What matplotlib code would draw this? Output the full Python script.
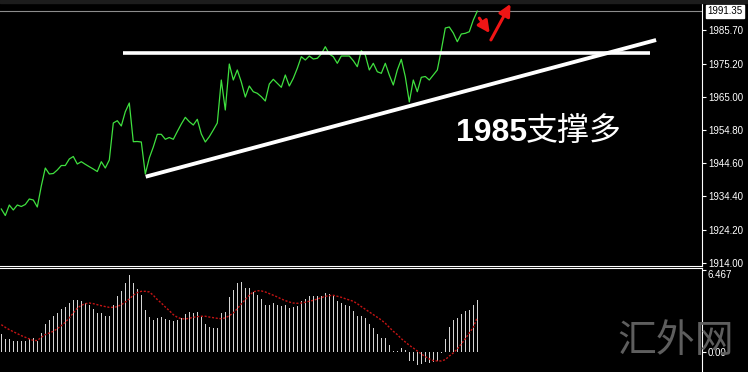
import matplotlib.pyplot as plt
import numpy as np
from matplotlib.patches import Rectangle

# price (line chart, one close per bar)
close = [
    1930.51, 1928.51, 1931.74, 1930.21, 1931.74, 1931.28, 1931.90, 1933.59, 1933.28, 1931.13,
    1937.59, 1943.12, 1941.28, 1941.43, 1942.51, 1943.89, 1943.89, 1945.89, 1946.66, 1944.35,
    1945.06, 1944.26, 1943.52, 1942.81, 1942.04, 1945.06, 1943.12, 1945.58, 1956.96, 1957.67,
    1956.04, 1960.43, 1963.11, 1951.21, 1951.27, 1951.12, 1941.28, 1946.20, 1949.58, 1953.48,
    1953.48, 1951.95, 1952.50, 1951.95, 1954.34, 1956.65, 1958.71, 1957.36, 1956.34, 1958.10,
    1953.58, 1951.12, 1952.75, 1954.81, 1956.96, 1970.18, 1960.96, 1975.10, 1970.18, 1973.26,
    1969.57, 1964.95, 1968.34, 1966.58, 1966.09, 1965.05, 1963.72, 1968.95, 1970.40, 1969.17,
    1967.94, 1971.72, 1968.34, 1970.70, 1973.78, 1977.35, 1976.33, 1977.56, 1976.64, 1976.85,
    1978.18, 1980.42, 1978.18, 1977.35, 1975.32, 1977.56, 1977.56, 1977.56, 1976.12, 1974.27,
    1979.19, 1977.87, 1973.26, 1975.32, 1972.73, 1972.24, 1975.32, 1971.72, 1968.64, 1973.26,
    1976.55, 1971.20, 1963.42, 1970.18, 1966.58, 1971.01, 1971.26, 1970.18, 1971.72, 1973.26,
    1979.41, 1986.17, 1986.48, 1984.63, 1981.96, 1984.33, 1984.54, 1985.03, 1988.63, 1991.35,
]

# MACD histogram and signal
macd = [
    1.44, 1.05, 1.05, 0.92, 0.92, 0.92, 0.92, 1.05, 1.13, 0.92,
    1.52, 2.23, 2.57, 2.83, 3.09, 3.43, 3.53, 3.87, 4.08, 4.08,
    4.01, 3.87, 3.74, 3.40, 3.09, 3.09, 2.88, 2.88, 3.74, 4.45,
    4.79, 5.45, 6.10, 5.45, 4.97, 4.53, 3.30, 2.75, 2.57, 2.70,
    2.77, 2.64, 2.57, 2.49, 2.57, 2.70, 3.04, 3.17, 3.09, 3.17,
    2.77, 2.23, 1.99, 1.91, 1.91, 3.09, 3.17, 4.35, 4.92, 5.45,
    5.52, 5.05, 5.05, 4.74, 4.53, 4.19, 3.74, 3.74, 3.87, 3.74,
    3.61, 3.74, 3.48, 3.53, 3.66, 4.01, 4.19, 4.40, 4.40, 4.40,
    4.40, 4.66, 4.58, 4.45, 4.06, 3.87, 3.74, 3.61, 3.27, 2.83,
    2.83, 2.70, 2.25, 1.91, 1.44, 1.13, 1.13, 0.60, 0.13, 0.13,
    0.34, 0.21, -0.71, -0.65, -0.97, -0.92, -0.79, -0.84, -0.79, -0.65,
    -0.05, 1.05, 1.99, 2.51, 2.70, 3.01, 3.22, 3.35, 3.74, 4.14,
]
signal = [
    2.17, 1.96, 1.78, 1.62, 1.47, 1.31, 1.18, 1.05, 0.94, 0.92,
    1.18, 1.39, 1.52, 1.65, 1.86, 2.09, 2.36, 2.70, 3.09, 3.48,
    3.69, 3.82, 3.87, 3.82, 3.74, 3.66, 3.59, 3.53, 3.53, 3.59,
    3.74, 3.95, 4.19, 4.48, 4.69, 4.79, 4.79, 4.74, 4.48, 4.14,
    3.87, 3.56, 3.27, 2.96, 2.75, 2.64, 2.62, 2.67, 2.75, 2.80,
    2.83, 2.83, 2.77, 2.72, 2.67, 2.64, 2.70, 2.88, 3.09, 3.43,
    3.80, 4.14, 4.48, 4.74, 4.84, 4.82, 4.74, 4.61, 4.48, 4.35,
    4.19, 4.06, 3.95, 3.87, 3.85, 3.87, 3.93, 4.01, 4.08, 4.19,
    4.29, 4.40, 4.45, 4.48, 4.40, 4.32, 4.21, 4.11, 4.01, 3.82,
    3.59, 3.38, 3.17, 2.96, 2.75, 2.54, 2.28, 1.96, 1.65, 1.39,
    1.07, 0.81, 0.55, 0.34, 0.10, -0.13, -0.34, -0.52, -0.65, -0.68,
    -0.68, -0.58, -0.29, -0.05, 0.26, 0.65, 1.07, 1.52, 1.96, 2.75,
]

price_ticks = [1914.00, 1924.20, 1934.40, 1944.60, 1954.80, 1965.00, 1975.20, 1985.70]
last_price = 1991.35
macd_top = 6.467

# drawn lines: (bar, price) end points
resistance = ([30.4, 162.2], [1978.4, 1978.4])
trend = ([36.1, 163.7], [1940.45, 1982.48])

bars = np.arange(len(close))

W, H = 748, 372
fig = plt.figure(figsize=(W / 100, H / 100), dpi=100, facecolor='black')

# thin dark strip at the very top
fig.patches.append(Rectangle((0, 1 - 3 / H), 1, 3 / H, transform=fig.transFigure,
                             color='#1c1c1c', zorder=0))

right = 701.7 / W
ax = fig.add_axes([0, (H - 266) / H, right, 264 / H])
ax2 = fig.add_axes([0, 0, right, 104 / H])

for a in (ax, ax2):
    a.set_facecolor('black')
    a.set_xlim(-0.325, 175.1)
    a.set_xticks([])
    a.yaxis.tick_right()
    for s in a.spines.values():
        s.set_visible(False)
    a.spines['right'].set_visible(True)
    a.spines['right'].set_color('white')
    a.tick_params(axis='y', colors='white', direction='out', length=3, width=0.8,
                  labelsize=7, pad=1.5)

ax.spines['bottom'].set_visible(True)
ax.spines['bottom'].set_color('white')
ax2.spines['top'].set_visible(True)
ax2.spines['top'].set_color('white')

# ---- main price panel ----
ax.set_ylim(1912.985, 1994.17)
ax.axhline(last_price, color='#8c8c8c', lw=0.8, zorder=1)
ax.plot(bars, close, color='#3fe03f', lw=0.9, zorder=2)
ax.plot(*resistance, color='white', lw=2.6, solid_capstyle='butt', zorder=3)
ax.plot(*trend, color='white', lw=2.8, solid_capstyle='butt', zorder=3)

ax.set_yticks(price_ticks)
ax.set_yticklabels([f'{p:.2f}' for p in price_ticks], family='Liberation Sans')

ax.annotate(f'{last_price:.2f}', xy=(1.0, last_price), xycoords=('axes fraction', 'data'),
            xytext=(4, 0), textcoords='offset points', fontsize=7, family='Liberation Sans',
            color='black', va='center', ha='left', annotation_clip=False,
            bbox=dict(boxstyle='square,pad=0.15', fc='white', ec='white'))

# red arrows
arrow = dict(arrowstyle='-|>,head_length=0.7,head_width=0.35', lw=2.2, color='#f01515',
             shrinkA=0, shrinkB=0)
ax.annotate('', xy=(122.1, 1984.6), xytext=(119.5, 1989.2), arrowprops=arrow,
            annotation_clip=False, zorder=5)
ax.annotate('', xy=(127.3, 1993.6), xytext=(122.4, 1982.5), arrowprops=arrow,
            annotation_clip=False, zorder=5)

fig.text(456 / W, 1 - 133 / H, '1985', fontsize=23, fontweight='bold',
         family='Liberation Sans', color='white', va='center', ha='left')
fig.text(526 / W, 1 - 131 / H, '支撑多', fontsize=23, family='Noto Sans CJK SC',
         color='white', va='center', ha='left')

# ---- MACD panel ----
ax2.set_ylim(-1.5475, 6.622)
ax2.bar(bars, macd, width=0.32, color='#d4d4d4', linewidth=0, zorder=2)
ax2.plot(bars, signal, color='#c41414', lw=1.0, linestyle=(0, (1.5, 1.2)), zorder=3)
ax2.set_yticks([0.0, macd_top])
ax2.set_yticklabels(['0.00', f'{macd_top:.3f}'], family='Liberation Sans')
ax2.get_yticklabels()[1].set_va('top')

fig.text(617 / W, 1 - 341 / H, '汇外网', fontsize=28, family='Noto Sans CJK SC',
         color='#5e5e5e', va='center', ha='left', zorder=10)

plt.savefig('out.png', dpi=100, facecolor='black')
